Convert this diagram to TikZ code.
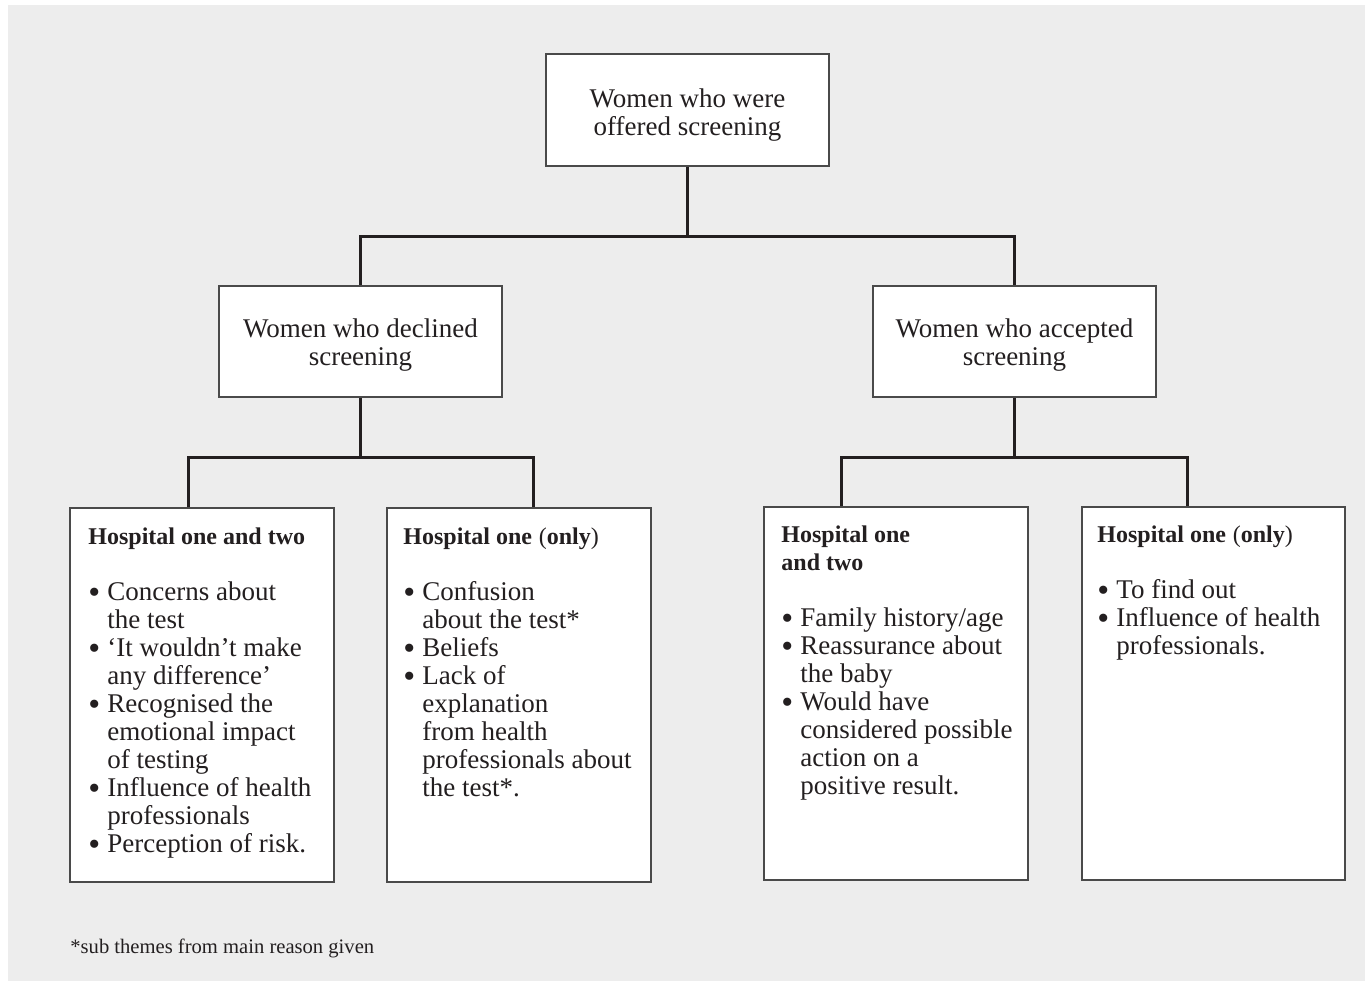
\documentclass[tikz,border=0pt]{standalone}
\usepackage{fontspec}
\setmainfont{Liberation Serif}
\definecolor{bg}{HTML}{EDEDED}
\definecolor{ink}{HTML}{231F20}
\definecolor{edge}{HTML}{4A4A4A}
\newcommand{\bodyfont}{\fontsize{13.5}{14}\selectfont}
\newcommand{\hd}[1]{{\fontsize{12}{14}\selectfont\bfseries #1}}
\newcommand{\itm}{\makebox[9.5pt][l]{\raisebox{-1.6pt}{\fontsize{17}{14}\selectfont•}}}
\begin{document}
\begin{tikzpicture}[x=0.5pt,y=-0.5pt,
  box/.style={draw=edge,line width=0.9pt,fill=white,inner sep=0pt},
  conn/.style={draw=ink,line width=1.5pt},
  lbl/.style={font=\bodyfont,align=center,inner sep=0pt,text=ink},
  list/.style={font=\bodyfont,anchor=base west,inner sep=0pt,text=ink}]
\useasboundingbox (0,0) rectangle (1365,980);
\fill[white] (-20,-20) rectangle (1400,1000);
\fill[bg] (8,5) rectangle (1400,1000);

% boxes
\node[box,minimum width=141.5pt,minimum height=56pt] (top) at (687.5,110) {};
\node[box,minimum width=141.5pt,minimum height=55.5pt] (dec) at (360.5,341.5) {};
\node[box,minimum width=141.5pt,minimum height=55.5pt] (acc) at (1014.5,341.5) {};
\node[box,minimum width=132pt,minimum height=187pt] (L1) at (202,695) {};
\node[box,minimum width=132pt,minimum height=187pt] (L2) at (519,695) {};
\node[box,minimum width=132pt,minimum height=186.5pt] (R1) at (896,693.5) {};
\node[box,minimum width=131.5pt,minimum height=186.5pt] (R2) at (1213.5,693.5) {};

% titles
\node[lbl,yshift=-2.5pt] (toptxt) at (top.center) {Women who were\\offered screening};
\node[lbl,yshift=-2pt] (dectxt) at (dec.center) {Women who declined\\screening};
\node[lbl,yshift=-2pt] (acctxt) at (acc.center) {Women who accepted\\screening};

% lists
\node[list] (L1txt) at (88,544) {\begin{tabular}[t]{@{}l@{}l@{}}
\multicolumn{2}{@{}l@{}}{\hd{Hospital one and two}}\\
 & \\
\itm & Concerns about\\
 & the test\\
\itm & ‘It wouldn’t make\\
 & any difference’\\
\itm & Recognised the\\
 & emotional impact\\
 & of testing\\
\itm & Influence of health\\
 & professionals\\
\itm & Perception of risk.
\end{tabular}};

\node[list] (L2txt) at (403,544) {\begin{tabular}[t]{@{}l@{}l@{}}
\multicolumn{2}{@{}l@{}}{\hd{Hospital one} {\fontsize{12}{14}\selectfont(}\hd{only}{\fontsize{12}{14}\selectfont)}}\\
 & \\
\itm & Confusion\\
 & about the test*\\
\itm & Beliefs\\
\itm & Lack of\\
 & explanation\\
 & from health\\
 & professionals about\\
 & the test*.
\end{tabular}};

\node[list] (R1txt) at (781,542) {\begin{tabular}[t]{@{}l@{}l@{}}
\multicolumn{2}{@{}l@{}}{\hd{Hospital one}}\\
\multicolumn{2}{@{}l@{}}{\hd{and two}}\\
 & \\
\itm & Family history/age\\
\itm & Reassurance about\\
 & the baby\\
\itm & Would have\\
 & considered possible\\
 & action on a\\
 & positive result.
\end{tabular}};

\node[list] (R2txt) at (1097,542) {\begin{tabular}[t]{@{}l@{}l@{}}
\multicolumn{2}{@{}l@{}}{\hd{Hospital one} {\fontsize{12}{14}\selectfont(}\hd{only}{\fontsize{12}{14}\selectfont)}}\\
 & \\
\itm & To find out\\
\itm & Influence of health\\
 & professionals.
\end{tabular}};

\node[anchor=base west,inner sep=0pt,text=ink,font=\fontsize{10.3}{12}\selectfont] (note) at (70,953) {*sub themes from main reason given};

% connectors
\coordinate (j1) at ([yshift=-35pt]top.south);
\draw[conn] (top.south) -- (j1);
\draw[conn] (dec.north) |- (j1) -| (acc.north);

\coordinate (j2) at ([yshift=-30pt]dec.south);
\coordinate (a1) at ([xshift=59.5pt]L1.north west);
\coordinate (a2) at ([xshift=73.5pt]L2.north west);
\draw[conn] (dec.south) -- (j2);
\draw[conn] (a1) |- (j2) -| (a2);

\coordinate (j3) at ([yshift=-30pt]acc.south);
\coordinate (b1) at ([xshift=39pt]R1.north west);
\coordinate (b2) at ([xshift=53pt]R2.north west);
\draw[conn] (acc.south) -- (j3);
\draw[conn] (b1) |- (j3) -| (b2);
\end{tikzpicture}
\end{document}
